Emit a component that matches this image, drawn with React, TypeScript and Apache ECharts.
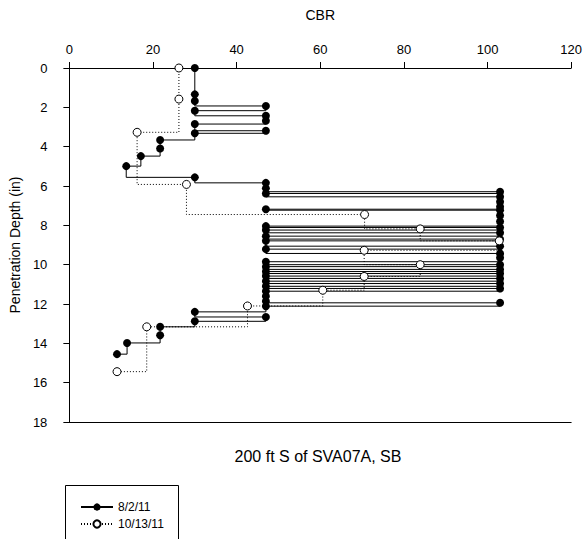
import React, { useEffect, useRef } from "react";
import * as echarts from "echarts";

const xTicks = { min: 0, max: 120, interval: 20 };
const yTicks = { min: 0, max: 18, interval: 2 };

const seriesNames = ["8/2/11", "10/13/11"];

const cbr1 = [
  30, 30, 30, 47, 30, 47, 47, 30, 47, 30, 21.7, 21.7, 17.1, 13.6, 30, 47, 47,
  103, 47, 103, 103, 103, 47, 103, 103, 103, 47, 103, 47, 103, 47, 103, 47, 103,
  47, 103, 103, 47, 103, 47, 103, 47, 103, 47, 103, 47, 103, 47, 103, 47,
  47, 47, 103, 47, 30, 47, 30, 21.7, 21.7, 13.8, 11.4,
];
const depth1 = [
  0, 1.34, 1.68, 1.93, 2.17, 2.43, 2.68, 2.85, 3.19, 3.32, 3.66, 4.09, 4.48,
  4.99, 5.56, 5.84, 6.12, 6.29, 6.38, 6.55, 6.8, 7.05, 7.18, 7.23, 7.5, 7.8,
  8.04, 8.11, 8.24, 8.38, 8.55, 8.7, 8.79, 9.06, 9.21, 9.43, 9.65, 9.85, 10.0,
  10.1, 10.24, 10.35, 10.45, 10.58, 10.7, 10.84, 10.96, 11.1, 11.21, 11.35,
  11.6, 11.86, 11.94, 12.11, 12.4, 12.66, 12.88, 13.16, 13.59, 13.98, 14.55,
];

const cbr2 = [26.2, 26.2, 16.2, 28, 70.6, 83.9, 102.8, 70.5, 83.9, 70.5, 60.6, 42.6, 18.5, 11.4];
const depth2 = [0, 1.58, 3.27, 5.92, 7.45, 8.18, 8.79, 9.27, 10.0, 10.6, 11.3, 12.1, 13.16, 15.44];

const FONT = "Liberation Sans, Arial, sans-serif";

export default function App() {
  const ref = useRef<HTMLDivElement>(null);
  useEffect(() => {
    if (!ref.current) return;
    const chart = echarts.init(ref.current, undefined, { renderer: "svg" });
    const d1 = cbr1.map((c, i) => [c, depth1[i]]);
    const d2 = cbr2.map((c, i) => [c, depth2[i]]);
    chart.setOption({
      animation: false,
      backgroundColor: "#fff",
      textStyle: { fontFamily: FONT },
      grid: { left: 65, right: 13, top: 68, bottom: 117 },
      xAxis: [
        {
          type: "value",
          position: "top",
          min: xTicks.min,
          max: xTicks.max,
          interval: xTicks.interval,
          name: "CBR",
          nameLocation: "middle",
          nameGap: 46,
          nameTextStyle: { color: "#000", fontSize: 14, fontFamily: FONT },
          axisLine: { show: true, lineStyle: { color: "#000", width: 1 } },
          axisTick: { show: true, inside: false, length: 6, lineStyle: { color: "#000" } },
          axisLabel: { color: "#000", fontSize: 13, margin: 12, fontFamily: FONT },
          splitLine: { show: false },
        },
        {
          type: "value",
          position: "bottom",
          min: xTicks.min,
          max: xTicks.max,
          axisLine: { show: true, lineStyle: { color: "#000", width: 1 } },
          axisTick: { show: false },
          axisLabel: { show: false },
          splitLine: { show: false },
        },
      ],
      yAxis: {
        type: "value",
        inverse: true,
        min: yTicks.min,
        max: yTicks.max,
        interval: yTicks.interval,
        name: "Penetration Depth (in)",
        nameLocation: "middle",
        nameRotate: 90,
        nameGap: 44,
        nameTextStyle: { color: "#000", fontSize: 14, fontFamily: FONT },
        axisLine: { show: true, lineStyle: { color: "#000", width: 1 } },
        axisTick: { show: true, inside: false, length: 6, lineStyle: { color: "#000" } },
        axisLabel: { color: "#000", fontSize: 13, margin: 22, fontFamily: FONT },
        splitLine: { show: false },
      },
      legend: {
        orient: "vertical",
        left: 75,
        top: 496,
        itemWidth: 32,
        itemHeight: 9,
        itemGap: 5,
        textStyle: { color: "#000", fontSize: 12, fontFamily: FONT },
        data: seriesNames,
      },
      graphic: [
        {
          type: "rect",
          shape: { x: 65.5, y: 485.5, width: 113, height: 70 },
          style: { fill: "none", stroke: "#000", lineWidth: 1 },
        },
        {
          type: "text",
          x: 318,
          y: 456,
          style: {
            text: "200 ft S of SVA07A, SB",
            fontSize: 16,
            fontFamily: FONT,
            fill: "#000",
            textAlign: "center",
            textVerticalAlign: "middle",
          },
        },
      ],
      series: [
        {
          name: seriesNames[0],
          type: "line",
          step: "start",
          data: d1,
          clip: false,
          showAllSymbol: true,
          symbol: "circle",
          symbolSize: 8,
          itemStyle: { color: "#000" },
          lineStyle: { color: "#000", width: 1 },
          z: 2,
        },
        {
          name: seriesNames[1],
          type: "line",
          step: "start",
          data: d2,
          clip: false,
          showAllSymbol: true,
          symbol: "circle",
          symbolSize: 8,
          itemStyle: { color: "#fff", borderColor: "#000", borderWidth: 1 },
          lineStyle: { color: "#000", width: 1, type: [1, 2] },
          z: 3,
        },
      ],
    });
    return () => chart.dispose();
  }, []);
  return <div ref={ref} style={{ width: 585, height: 539, position: "absolute", left: 0, top: 0 }} />;
}
